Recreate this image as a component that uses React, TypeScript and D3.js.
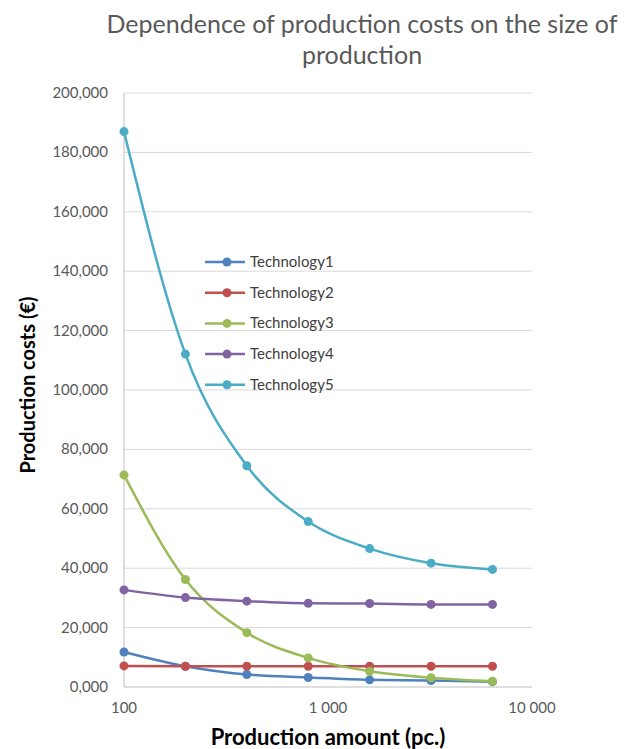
import React from "react";
import * as d3 from "d3";

const amounts = [100, 200, 400, 800, 1600, 3200, 6400];
const seriesNames = ["Technology1", "Technology2", "Technology3", "Technology4", "Technology5"];
const tech1 = [11800, 7000, 4200, 3200, 2400, 2200, 1800];
const tech2 = [7100, 7000, 7000, 7000, 7000, 7000, 7000];
const tech3 = [71400, 36200, 18300, 9800, 5300, 3100, 1900];
const tech4 = [32700, 30100, 28900, 28200, 28100, 27800, 27800];
const tech5 = [187000, 112100, 74500, 55700, 46600, 41700, 39600];
const colors = ["#4F81BD", "#C0504D", "#9BBB59", "#8064A2", "#4BACC6"];
const yTicks = [0, 20000, 40000, 60000, 80000, 100000, 120000, 140000, 160000, 180000, 200000];
const xTicks = [100, 1000, 10000];
const xTickLabels = ["100", "1 000", "10 000"];

const W = 638, H = 749;
const left = 124, right = 532, top = 93, bottom = 687;

export default function App() {
  const x = d3.scaleLog().domain([100, 10000]).range([left, right]);
  const y = d3.scaleLinear().domain([0, 200000]).range([bottom, top]);
  const data = [tech1, tech2, tech3, tech4, tech5];
  const line = d3
    .line<number>()
    .x((_, i) => x(amounts[i]))
    .y((d) => y(d))
    .curve(d3.curveMonotoneX);
  const fmt = (v: number) => (v === 0 ? "0,000" : d3.format(",")(v));
  const font = "Lato, 'Open Sans', sans-serif";
  return (
    <svg width={W} height={H} style={{ position: "absolute", left: 0, top: 0 }} fontFamily={font}>
      <rect width={W} height={H} fill="#fff" />
      <text x={362} y={33} textAnchor="middle" fontSize={25} fill="#595959">
        Dependence of production costs on the size of
      </text>
      <text x={362} y={64} textAnchor="middle" fontSize={25} fill="#595959">
        production
      </text>
      {yTicks.map((t) => (
        <g key={t}>
          {t > 0 && <line x1={left} x2={right} y1={y(t)} y2={y(t)} stroke="#d9d9d9" strokeWidth={1} />}
          <text x={108} y={y(t) + 5} textAnchor="end" fontSize={15} fill="#595959">
            {fmt(t)}
          </text>
        </g>
      ))}
      <line x1={left} x2={left} y1={top} y2={bottom} stroke="#bfbfbf" strokeWidth={1} />
      <line x1={left} x2={right} y1={bottom} y2={bottom} stroke="#bfbfbf" strokeWidth={1} />
      {xTicks.map((t, i) => (
        <text key={t} x={x(t)} y={713} textAnchor="middle" fontSize={15} fill="#595959">
          {xTickLabels[i]}
        </text>
      ))}
      <text x={328} y={745} textAnchor="middle" fontSize={22} fontWeight="bold" fill="#000">
        Production amount (pc.)
      </text>
      <text
        transform={`translate(35, ${385}) rotate(-90)`}
        textAnchor="middle"
        fontSize={20}
        fontWeight="bold"
        fill="#000"
      >
        Production costs (€)
      </text>
      {data.map((s, si) => (
        <g key={si}>
          <path d={line(s) || ""} fill="none" stroke={colors[si]} strokeWidth={2.5} />
          {s.map((v, i) => (
            <circle key={i} cx={x(amounts[i])} cy={y(v)} r={4.5} fill={colors[si]} />
          ))}
        </g>
      ))}
      {seriesNames.map((n, i) => {
        const ly = 262 + i * 30.7;
        return (
          <g key={n}>
            <line x1={205} x2={245} y1={ly} y2={ly} stroke={colors[i]} strokeWidth={2.5} />
            <circle cx={227} cy={ly} r={4.5} fill={colors[i]} />
            <text x={250} y={ly + 5} fontSize={15} fill="#404040">
              {n}
            </text>
          </g>
        );
      })}
    </svg>
  );
}
